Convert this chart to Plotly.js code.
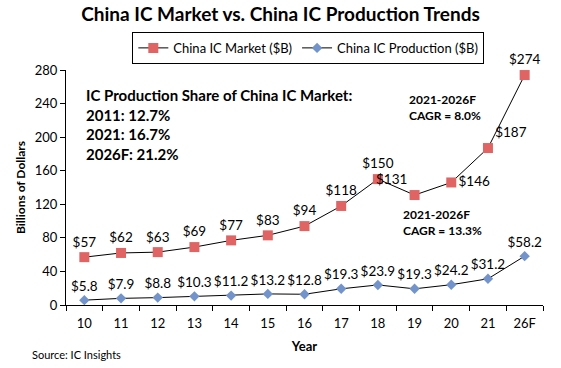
<!DOCTYPE html>
<html><head><meta charset="utf-8">
<script src="https://cdn.plot.ly/plotly-3.0.1.min.js"></script>
<style>body{margin:0;background:#fff}#chart{width:561px;height:368px}</style>
</head><body><div id="chart"></div>
<script>
const years = ['10','11','12','13','14','15','16','17','18','19','20','21','26F'];
const marketValues = [57, 62, 63, 69, 77, 83, 94, 118, 150, 131, 146, 187, 274];
const productionValues = [5.8, 7.9, 8.8, 10.3, 11.2, 13.2, 12.8, 19.3, 23.9, 19.3, 24.2, 31.2, 58.2];
const yTicks = [0, 40, 80, 120, 160, 200, 240, 280];

const FONT = 'Lato, "Open Sans", sans-serif';
const marketPos = marketValues.map((v, i) => i === 9 ? 'top left' : i === 10 ? 'middle right' : i === 11 ? 'top right' : 'top center');

const traces = [
  {
    x: years, y: marketValues, name: 'China IC Market ($B)', type: 'scatter', mode: 'lines+markers+text',
    line: {color: '#000', width: 1},
    marker: {symbol: 'square', size: 10, color: '#e06464'},
    text: marketValues.map(v => '$' + v), textposition: marketPos,
    textfont: {family: FONT, size: 13.5, color: '#000'}, cliponaxis: false
  },
  {
    x: years, y: productionValues, name: 'China IC Production ($B)', type: 'scatter', mode: 'lines+markers+text',
    line: {color: '#000', width: 1},
    marker: {symbol: 'diamond', size: 8, color: '#7394cb'},
    text: productionValues.map(v => '$' + v.toFixed(1)), textposition: 'top center',
    textfont: {family: FONT, size: 13.5, color: '#000'}, cliponaxis: false
  }
];

const layout = {
  width: 561, height: 368,
  margin: {l: 66, r: 18, t: 70, b: 63},
  paper_bgcolor: '#fff', plot_bgcolor: '#fff',
  font: {family: FONT, color: '#000'},
  title: {text: '<b>China IC Market vs. China IC Production Trends</b>', font: {family: FONT, size: 19, color: '#000'}, x: 0.5, xanchor: 'center', y: 0.962, yanchor: 'middle'},
  showlegend: true,
  legend: {orientation: 'h', x: 0.508, xanchor: 'center', y: 1.162, yanchor: 'top', bordercolor: '#000', borderwidth: 1, font: {family: FONT, size: 13, color: '#000'}, bgcolor: '#fff', itemwidth: 30, tracegroupgap: 0},
  xaxis: {
    type: 'category', range: [-0.5, 12.5], showline: true, linecolor: '#000', linewidth: 1,
    ticks: 'outside', tickson: 'boundaries', ticklen: 5, tickcolor: '#000', showgrid: false, zeroline: false,
    tickfont: {family: FONT, size: 13, color: '#000'}, ticklabelstandoff: 6,
    title: {text: '<b>Year</b>', font: {family: FONT, size: 13, color: '#000'}, standoff: 12}
  },
  yaxis: {
    range: [0, 280], tickvals: yTicks, showline: true, linecolor: '#000', linewidth: 1,
    ticks: 'outside', ticklen: 5, tickcolor: '#000', showgrid: false, zeroline: false,
    tickfont: {family: FONT, size: 13, color: '#000'},
    title: {text: '<b>Billions of Dollars</b>', font: {family: FONT, size: 12, color: '#000'}, standoff: 6}
  },
  annotations: [
    {xref: 'paper', yref: 'paper', x: 0.037, y: 0.94, xanchor: 'left', yanchor: 'top', showarrow: false, align: 'left',
     text: '<b>IC Production Share of China IC Market:<br>2011: 12.7%<br>2021: 16.7%<br>2026F: 21.2%</b>',
     font: {family: FONT, size: 15, color: '#000'}},
    {xref: 'paper', yref: 'paper', x: 0.714, y: 0.915, xanchor: 'left', yanchor: 'top', showarrow: false, align: 'left',
     text: '<b>2021-2026F<br>CAGR = 8.0%</b>', font: {family: FONT, size: 12, color: '#000'}},
    {xref: 'paper', yref: 'paper', x: 0.703, y: 0.425, xanchor: 'left', yanchor: 'top', showarrow: false, align: 'left',
     text: '<b>2021-2026F<br>CAGR = 13.3%</b>', font: {family: FONT, size: 12, color: '#000'}},
    {xref: 'paper', yref: 'paper', x: -0.075, y: -0.175, xanchor: 'left', yanchor: 'top', showarrow: false, align: 'left',
     text: 'Source: IC Insights', font: {family: FONT, size: 11, color: '#000'}}
  ]
};

Plotly.newPlot('chart', traces, layout, {displayModeBar: false, staticPlot: true});
</script>
</body></html>
